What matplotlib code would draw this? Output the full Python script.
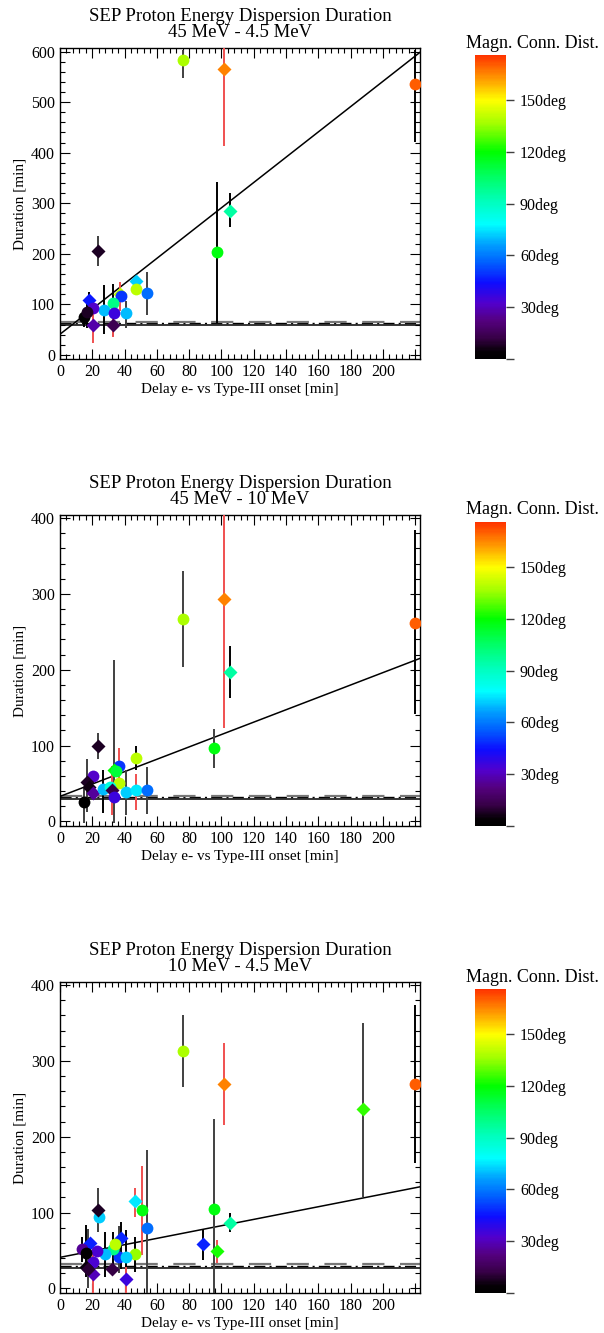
import numpy as np
import matplotlib
matplotlib.use('Agg')
import matplotlib.pyplot as plt
from matplotlib.colors import LinearSegmentedColormap, Normalize
from matplotlib.cm import ScalarMappable
from matplotlib.ticker import MultipleLocator

plt.rcParams['font.family'] = ['Liberation Serif', 'DejaVu Serif']

nan = np.nan

# ---- panel 1 : 45 MeV - 4.5 MeV
delay_1 = [75.9, 101.4, 219.6, 105.4, 97.4, 23.3, 47.0, 47.0, 53.6, 37.1, 37.8, 33.0,
           27.4, 40.8, 18.1, 20.2, 33.6, 20.2, 32.6, 15.0, 17.0]
dur_1 = [583, 566, 535, 285, 203, 205, 146, 130, 123, 120, 117, 102,
         89, 82, 108, 93, 83, 60, 60, 76, 84]
lo_1 = [547, 414, 422, 253, 63, 176, 125, nan, 79, 86, nan, 37,
        42, 53, 76, nan, nan, 23, 36, 55, 53]
hi_1 = [604, 620, 604, 320, 343, 235, 158, nan, 165, 145, nan, 140,
        138, 107, 125, nan, nan, 105, 86, 90, 110]
mcd_1 = [138, 165, 170, 95, 118, 8, 72, 140, 58, 140, 50, 100,
         70, 70, 46, 32, 36, 28, 14, 2, 8]
sym_1 = ['o', 'D', 'o', 'D', 'o', 'D', 'D', 'o', 'o', 'D', 'o', 'o',
         'o', 'o', 'D', 'o', 'o', 'D', 'D', 'o', 'o']
ecol_1 = ['g', 'r', 'k', 'k', 'k', 'g', 'k', 'k', 'g', 'r', 'k', 'k',
          'k', 'g', 'k', 'k', 'k', 'r', 'r', 'k', 'k']
fit_1 = (41, 2.5)
base_1 = 60

# ---- panel 2 : 45 MeV - 10 MeV
delay_2 = [75.9, 101.4, 219.6, 105.6, 95.2, 23.3, 47.0, 36.7, 33.4, 34.4, 36.7, 20.2,
           16.5, 17.8, 20.2, 26.8, 30.9, 32.0, 33.6, 40.8, 47.0, 53.6, 15.0]
dur_2 = [267, 293, 262, 197, 97, 100, 84, 73, 68, 66, 51, 60,
         52, 46, 37, 43, 46, 42, 32, 39, 41, 42, 26]
lo_2 = [204, 123, 141, 163, 70, 82, 68, nan, nan, nan, 50, nan,
        13, nan, nan, 11, nan, 9, -2, 9, 15, 10, -2]
hi_2 = [330, 410, 384, 231, 122, 117, 99, nan, nan, nan, 97, nan,
        82, nan, nan, 68, nan, 73, 213, 68, 62, 72, 46]
mcd_2 = [138, 165, 170, 95, 118, 8, 140, 50, 120, 112, 140, 32,
         8, 6, 26, 70, 85, 12, 36, 72, 75, 58, 0]
sym_2 = ['o', 'D', 'o', 'D', 'o', 'D', 'o', 'o', 'D', 'o', 'o', 'o',
         'D', 'D', 'D', 'o', 'o', 'D', 'o', 'o', 'o', 'o', 'o']
ecol_2 = ['g', 'r', 'k', 'k', 'g', 'g', 'k', 'k', 'k', 'k', 'r', 'k',
          'g', 'k', 'k', 'k', 'k', 'r', 'g', 'g', 'r', 'g', 'g']
fit_2 = (33, 0.816)
base_2 = 29

# ---- panel 3 : 10 MeV - 4.5 MeV
delay_3 = [75.9, 101.4, 219.6, 187.6, 105.6, 95.2, 97.3, 88.6, 53.6, 50.9, 46.6, 46.6,
           24.3, 23.7, 37.5, 36.7, 40.8, 40.8, 33.0, 34.2, 32.4, 27.8, 22.7, 20.6,
           20.6, 18.6, 13.4, 16.1, 16.1, 17.4]
dur_3 = [313, 269, 269, 236, 86, 105, 49, 58, 80, 104, 115, 46,
         94, 104, 67, 41, 41, 13, 52, 58, 26, 46, 49, 35,
         19, 60, 52, 47, 28, 26]
lo_3 = [266, 216, 165, 121, 74, -7, 33, 37, -7, 44, 94, 22,
        nan, 75, 26, 20, 2, -7, 20, nan, nan, 15, nan, nan,
        -6, nan, 35, nan, 15, 0]
hi_3 = [360, 323, 374, 350, 99, 224, 64, 79, 183, 161, 133, 68,
        nan, 132, 88, 82, 77, 28, 75, nan, nan, 75, nan, nan,
        55, nan, 68, nan, 83, 78]
mcd_3 = [138, 165, 170, 125, 95, 118, 122, 47, 58, 118, 75, 135,
         72, 8, 48, 50, 72, 36, 100, 140, 12, 70, 33, 33,
         30, 47, 25, 2, 5, 10]
sym_3 = ['o', 'D', 'o', 'D', 'D', 'o', 'D', 'D', 'o', 'o', 'D', 'o',
         'o', 'D', 'D', 'o', 'o', 'D', 'o', 'o', 'D', 'o', 'o', 'o',
         'D', 'D', 'o', 'o', 'D', 'D']
ecol_3 = ['g', 'r', 'k', 'g', 'k', 'g', 'r', 'k', 'g', 'r', 'r', 'k',
          'k', 'g', 'k', 'g', 'k', 'r', 'k', 'k', 'k', 'k', 'k', 'k',
          'r', 'k', 'k', 'k', 'k', 'g']
fit_3 = (41, 0.417)
base_3 = 27

titles = ['SEP Proton Energy Dispersion Duration\n45 MeV - 4.5 MeV',
          'SEP Proton Energy Dispersion Duration\n45 MeV - 10 MeV',
          'SEP Proton Energy Dispersion Duration\n10 MeV - 4.5 MeV']
ylims = [(-8, 607), (-6, 404), (-6, 404)]
cb_ticks = [0, 30, 60, 90, 120, 150]
cb_labels = ['', '30deg', '60deg', '90deg', '120deg', '150deg']

# rainbow colour table with black bottom (IDL like)
anchors = [(0, (0, 0, 0)), (4, (0.02, 0, 0.02)), (12, (0.22, 0, 0.28)),
           (22, (0.33, 0, 0.5)), (32, (0.32, 0, 0.8)), (44, (0.05, 0.05, 1)),
           (56, (0, 0.38, 1)), (66, (0, 0.62, 1)), (78, (0, 1, 1)),
           (92, (0, 1, 0.72)), (106, (0, 1, 0.38)), (120, (0, 1, 0)),
           (136, (0.62, 1, 0)), (150, (1, 1, 0)), (162, (1, 0.62, 0)),
           (176, (1, 0.2, 0))]
vmax = 176.
cmap = LinearSegmentedColormap.from_list('mcd', [(a / vmax, c) for a, c in anchors])
norm = Normalize(0, vmax)

ecolors = {'k': 'black', 'g': '#404040', 'r': '#f05050'}

W, H = 604., 1333.
fig = plt.figure(figsize=(W / 100, H / 100), dpi=100)

panels = [(delay_1, dur_1, lo_1, hi_1, mcd_1, sym_1, ecol_1, fit_1, base_1),
          (delay_2, dur_2, lo_2, hi_2, mcd_2, sym_2, ecol_2, fit_2, base_2),
          (delay_3, dur_3, lo_3, hi_3, mcd_3, sym_3, ecol_3, fit_3, base_3)]
ax_top = [48, 515, 982]

for i, (dx, dy, lo, hi, mcd, sym, ecol, fit, base) in enumerate(panels):
    top = ax_top[i]
    ax = fig.add_axes([60 / W, (H - top - 311) / H, 360 / W, 311 / H])
    xmax = 223

    # baselines
    ax.axhline(base, color='black', lw=1.1, zorder=1)
    ax.axhline(base + 3, color='black', lw=1.0, ls=(0, (8, 3, 1.5, 3)), zorder=1)
    ax.axhline(base + 5, color='#777777', lw=1.6, ls=(0, (10, 7)), zorder=1)

    # fit line
    xx = np.array([0, xmax])
    ax.plot(xx, fit[0] + fit[1] * xx, color='black', lw=1.1, zorder=2)

    # error bars
    for x, l, h, c in zip(dx, lo, hi, ecol):
        if np.isnan(l):
            continue
        ax.plot([x, x], [l, h], color=ecolors[c], lw=1.4, zorder=3,
                solid_capstyle='butt')

    # symbols
    for x, y, m, s in zip(dx, dy, mcd, sym):
        ax.plot(x, y, marker=s, ms=8.5 if s == 'o' else 7.5,
                color=cmap(norm(m)), mec='none', zorder=4, ls='none')

    ax.set_xlim(0, xmax)
    ax.set_ylim(*ylims[i])
    ax.xaxis.set_major_locator(MultipleLocator(20))
    ax.xaxis.set_minor_locator(MultipleLocator(4))
    ax.yaxis.set_major_locator(MultipleLocator(100))
    ax.yaxis.set_minor_locator(MultipleLocator(20))
    ax.tick_params(which='both', direction='in', top=True, right=True,
                   labelsize=11.5, width=0.8)
    ax.tick_params(which='major', length=7)
    ax.tick_params(which='minor', length=3.5)
    ax.xaxis.set_major_formatter(plt.FuncFormatter(
        lambda v, p: '%d' % v if v <= 200 else ''))
    for sp in ax.spines.values():
        sp.set_linewidth(1.0)
    ax.set_xlabel('Delay e- vs Type-III onset [min]', fontsize=11, labelpad=2)
    ax.set_ylabel('Duration [min]', fontsize=11, labelpad=3)
    ax.set_title(titles[i], fontsize=13.5, linespacing=0.9, pad=8)

    # colour bar
    cax = fig.add_axes([475 / W, (H - top - 311) / H, 31 / W, 304 / H])
    cb = fig.colorbar(ScalarMappable(norm=norm, cmap=cmap), cax=cax)
    cb.outline.set_visible(False)
    cb.set_ticks(cb_ticks)
    cb.set_ticklabels(cb_labels)
    cax.tick_params(length=6, width=1, color='#404040', labelsize=11.5, pad=4)
    fig.text(532 / W, 1 - (top - 5) / H, 'Magn. Conn. Dist.', fontsize=13,
             ha='center', va='center')

fig.savefig('out.png', dpi=100)
